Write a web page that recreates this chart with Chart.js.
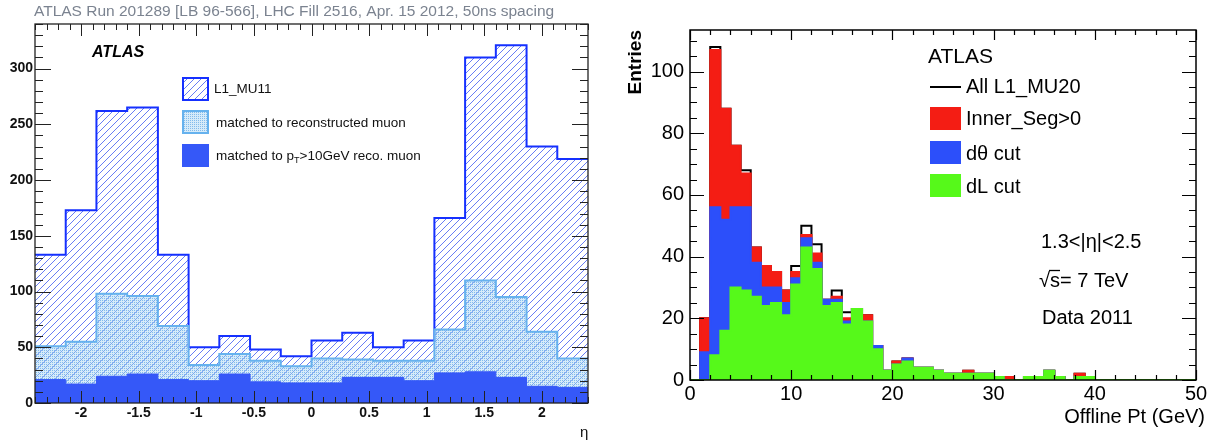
<!DOCTYPE html>
<html><head><meta charset="utf-8">
<script src="https://cdn.jsdelivr.net/npm/chart.js@4.4.1/dist/chart.umd.min.js"></script>
<style>
html,body{margin:0;padding:0;background:#fff;width:1217px;height:443px;overflow:hidden}
#wrapL{position:absolute;left:0;top:0;width:600px;height:443px}
#wrapR{position:absolute;left:600px;top:0;width:617px;height:443px}
canvas{display:block}
</style></head><body>
<div id="wrapL"><canvas id="cL" width="600" height="443"></canvas></div>
<div id="wrapR"><canvas id="cR" width="617" height="443"></canvas></div>
<script>
// ---------- Left panel data (eta) ----------
const etaEdges = [-2.4, -2.1333, -1.8667, -1.6, -1.3333, -1.0667, -0.8, -0.5333, -0.2667, 0,
                  0.2667, 0.5333, 0.8, 1.0667, 1.3333, 1.6, 1.8667, 2.1333, 2.4];
const l1mu11      = [133, 173, 262, 265, 133, 50, 60, 48, 42, 56, 63, 50, 56, 166, 310, 321, 230, 219];
const matchedReco = [51, 55, 98, 96, 69, 34, 44, 38, 33, 40, 39, 38, 38, 66, 110, 95, 64, 40];
const matchedPt10 = [21, 17, 24, 26, 21, 20, 26, 19, 18, 18, 23, 23, 20, 27, 28, 23, 15, 14];
const etaTicks = [-2, -1.5, -1, -0.5, 0, 0.5, 1, 1.5, 2];
const leftYTicks = [0, 50, 100, 150, 200, 250, 300];

// ---------- Right panel data (offline pT) ----------
const ptEdges = [0,1,2,3,4,5,6,7,8,9,10,11,12,13,14,15,16,17,18,19,20,21,22,23,24,25,26,27,28,29,30,
                 31,32,33,34,35,36,37,38,39,40,41,42,43,44,45,46,47,48,49,50];
const allL1MU20 = [0,20,108,88,76,68,43,37,35,29,37,50,44,26,29,22,23,21,11,3,6,7,4,4,3,2,2,3,2,2,1,1,0,1,1,3,1,0,2,1,0,0,0,0,0,0,0,0,0,0];
const innerSeg  = [0,20,107,88,76,67,43,37,35,29,35,47,41,26,27,20,23,21,11,3,6,7,4,4,3,2,2,3,2,2,1,1,0,1,1,3,1,0,2,1,0,0,0,0,0,0,0,0,0,0];
const dThetaCut = [0,9,56,52,56,56,38,30,30,25,33,46,38,26,26,19,23,19,11,3,5,7,4,4,3,2,2,2,2,2,1,0,0,1,1,3,1,0,1,1,0,0,0,0,0,0,0,0,0,0];
const dLCut     = [0,0,8,16,30,29,27,24,25,21,31,43,36,24,25,18,23,19,10,3,5,6,4,4,3,2,2,2,2,2,1,0,0,1,1,3,1,0,1,1,0,0,0,0,0,0,0,0,0,0];
const ptTicks = [0, 10, 20, 30, 40, 50];
const rightYTicks = [0, 20, 40, 60, 80, 100];

const FONT = '"Liberation Sans", Arial, Helvetica, sans-serif';

function histPoints(edges, vals) {
  const pts = vals.map((v, i) => ({x: edges[i], y: v}));
  pts.push({x: edges[vals.length], y: vals[vals.length - 1]});
  return pts;
}

function makeHatch(ctxMain) {
  const c = document.createElement('canvas'); c.width = 7; c.height = 7;
  const g = c.getContext('2d');
  g.strokeStyle = 'rgba(45,75,240,0.72)'; g.lineWidth = 1;
  g.beginPath();
  g.moveTo(-1, 8); g.lineTo(8, -1);
  g.moveTo(-1, 1); g.lineTo(1, -1);
  g.moveTo(6, 8); g.lineTo(8, 6);
  g.stroke();
  return ctxMain.createPattern(c, 'repeat');
}
function makeDots(ctxMain) {
  const c = document.createElement('canvas'); c.width = 2; c.height = 2;
  const g = c.getContext('2d');
  g.fillStyle = 'rgba(165,210,242,0.45)'; g.fillRect(0, 0, 2, 2);
  g.fillStyle = 'rgba(110,175,232,0.8)'; g.fillRect(0, 0, 1, 1);
  return ctxMain.createPattern(c, 'repeat');
}

const rootAxes = {
  id: 'rootAxes',
  afterDatasetsDraw(chart, args, o) {
    const {ctx, chartArea: a, scales: {x, y}} = chart;
    const marks = (min, max, step) => {
      const out = [];
      const n0 = Math.ceil(min / step - 1e-6), n1 = Math.floor(max / step + 1e-6);
      for (let k = n0; k <= n1; k++) out.push(k * step);
      return out;
    };
    const isMaj = (v, m) => Math.abs(v / m - Math.round(v / m)) < 1e-6;
    ctx.save();
    ctx.strokeStyle = o.color; ctx.lineWidth = o.lw;
    ctx.beginPath();
    for (const v of marks(x.min, x.max, o.xMinor)) {
      const len = isMaj(v, o.xMajor) ? o.xMajLen : o.xMinLen;
      const px = Math.round(x.getPixelForValue(v)) + 0.5;
      ctx.moveTo(px, a.bottom); ctx.lineTo(px, a.bottom - len);
      ctx.moveTo(px, a.top); ctx.lineTo(px, a.top + len);
    }
    for (const v of marks(y.min, y.max, o.yMinor)) {
      const len = isMaj(v, o.yMajor) ? o.yMajLen : o.yMinLen;
      const py = Math.round(y.getPixelForValue(v)) + 0.5;
      ctx.moveTo(a.left, py); ctx.lineTo(a.left + len, py);
      ctx.moveTo(a.right, py); ctx.lineTo(a.right - len, py);
    }
    ctx.stroke();
    ctx.lineWidth = o.frameLw;
    ctx.strokeRect(a.left, a.top, a.right - a.left, a.bottom - a.top);
    ctx.restore();
  }
};

function histDataset(label, edges, vals, border, bg, bw, fill) {
  return {
    label, data: histPoints(edges, vals), stepped: 'before', borderColor: border,
    backgroundColor: bg, borderWidth: bw, fill: fill ? 'origin' : false,
    pointRadius: 0, pointHoverRadius: 0, tension: 0
  };
}

// ---------------- LEFT CHART ----------------
const ctxL = document.getElementById('cL').getContext('2d');
const hatch = makeHatch(ctxL);
const dots = makeDots(ctxL);

const leftDecor = {
  id: 'leftDecor',
  afterDraw(chart) {
    const ctx = chart.ctx;
    ctx.save();
    ctx.textBaseline = 'middle'; ctx.textAlign = 'left';
    ctx.fillStyle = '#7b8390';
    ctx.font = '15.5px ' + FONT;
    ctx.fillText('ATLAS Run 201289 [LB 96-566], LHC Fill 2516, Apr. 15 2012, 50ns spacing', 34, 12);
    ctx.fillStyle = '#000';
    ctx.font = 'italic bold 16px ' + FONT;
    ctx.fillText('ATLAS', 92, 53);
    // legend
    const bx = 183, bw = 25, bh = 22;
    ctx.fillStyle = '#fff'; ctx.fillRect(bx, 78, bw, bh);
    ctx.fillStyle = hatch; ctx.fillRect(bx, 78, bw, bh);
    ctx.strokeStyle = '#1530ff'; ctx.lineWidth = 2; ctx.strokeRect(bx, 78, bw, bh);
    ctx.fillStyle = dots; ctx.fillRect(bx, 111, bw, bh);
    ctx.strokeStyle = '#66b2ee'; ctx.lineWidth = 2; ctx.strokeRect(bx, 111, bw, bh);
    ctx.fillStyle = '#3558f8'; ctx.fillRect(bx - 1, 144, bw + 2, bh + 1);
    ctx.fillStyle = '#111';
    ctx.font = '13.5px ' + FONT;
    ctx.fillText('L1_MU11', 214, 89);
    ctx.fillText('matched to reconstructed muon', 216, 123);
    let t1 = 'matched to p';
    ctx.fillText(t1, 216, 156);
    let w = ctx.measureText(t1).width;
    ctx.font = '9px ' + FONT;
    ctx.fillText('T', 216 + w, 161);
    let w2 = ctx.measureText('T').width;
    ctx.font = '13.5px ' + FONT;
    ctx.fillText('>10GeV reco. muon', 216 + w + w2, 156);
    // axis title
    ctx.font = '15px ' + FONT;
    ctx.fillText('\u03B7', 580, 433);
    ctx.restore();
  }
};

new Chart(ctxL, {
  type: 'line',
  data: {
    datasets: [
      histDataset('matched to pT>10GeV reco. muon', etaEdges, matchedPt10, '#3558f8', '#3558f8', 1, true),
      histDataset('matched to reconstructed muon', etaEdges, matchedReco, '#66b2ee', dots, 2, true),
      histDataset('L1_MU11', etaEdges, l1mu11, '#1530ff', hatch, 2, true)
    ]
  },
  options: {
    responsive: false, animation: false, devicePixelRatio: 1,
    layout: {padding: {left: 0, top: 24, right: 12, bottom: 0}},
    plugins: {
      legend: {display: false}, tooltip: {enabled: false},
      rootAxes: {color: '#222', lw: 1, frameLw: 1.3, xMajor: 0.5, xMinor: 0.1, yMajor: 50, yMinor: 10,
                 xMajLen: 12, xMinLen: 6, yMajLen: 16, yMinLen: 8}
    },
    scales: {
      x: {
        type: 'linear', min: -2.4, max: 2.4,
        grid: {display: false, drawTicks: false}, border: {display: false},
        afterBuildTicks: s => { s.ticks = etaTicks.map(v => ({value: v})); },
        ticks: {font: {family: FONT, size: 14, weight: 'bold'}, color: '#111', padding: 2,
                maxRotation: 0, autoSkip: false, callback: v => String(Number(v.toFixed(1)))},
        afterFit: s => { s.height = 40; }
      },
      y: {
        type: 'linear', min: 0, max: 340,
        grid: {display: false, drawTicks: false}, border: {display: false},
        afterBuildTicks: s => { s.ticks = leftYTicks.map(v => ({value: v})); },
        ticks: {font: {family: FONT, size: 14, weight: 'bold'}, color: '#111', padding: 2, autoSkip: false},
        afterFit: s => { s.width = 35; }
      }
    }
  },
  plugins: [rootAxes, leftDecor]
});

// ---------------- RIGHT CHART ----------------
const ctxR = document.getElementById('cR').getContext('2d');
const RED = '#f41d14', BLUE = '#2c4ffa', GREEN = '#56f91a';

const rightDecor = {
  id: 'rightDecor',
  afterDraw(chart) {
    const ctx = chart.ctx;
    ctx.save();
    ctx.textBaseline = 'middle'; ctx.textAlign = 'left';
    ctx.fillStyle = '#000';
    ctx.font = '21px ' + FONT;
    ctx.fillText('ATLAS', 328, 57);
    ctx.font = '20px ' + FONT;
    ctx.strokeStyle = '#000'; ctx.lineWidth = 2;
    ctx.beginPath(); ctx.moveTo(330, 87); ctx.lineTo(361, 87); ctx.stroke();
    ctx.fillStyle = RED; ctx.fillRect(330, 107, 31, 23);
    ctx.fillStyle = BLUE; ctx.fillRect(330, 141, 31, 23);
    ctx.fillStyle = GREEN; ctx.fillRect(330, 174, 31, 23);
    ctx.fillStyle = '#000';
    ctx.fillText('All L1_MU20', 366, 87);
    ctx.fillText('Inner_Seg>0', 366, 119);
    ctx.fillText('d\u03B8 cut', 366, 154);
    ctx.fillText('dL cut', 366, 187);
    ctx.fillText('1.3<|\u03B7|<2.5', 441, 242);
    // sqrt(s)
    const sq = '\u221A';
    ctx.fillText(sq, 439, 281);
    const wsq = ctx.measureText(sq).width;
    ctx.fillText('s= 7 TeV', 439 + wsq, 281);
    const ws = ctx.measureText('s').width;
    ctx.lineWidth = 1.3;
    ctx.beginPath(); ctx.moveTo(439 + wsq - 1, 270.5); ctx.lineTo(439 + wsq + ws, 270.5); ctx.stroke();
    ctx.fillText('Data 2011', 442, 318);
    // axis titles
    ctx.textAlign = 'right';
    ctx.fillText('Offline Pt (GeV)', 605, 417);
    ctx.translate(36, 30);
    ctx.rotate(-Math.PI / 2);
    ctx.font = 'bold 19px ' + FONT;
    ctx.fillText('Entries', 0, 0);
    ctx.restore();
  }
};

new Chart(ctxR, {
  type: 'line',
  data: {
    datasets: [
      histDataset('dL cut', ptEdges, dLCut, GREEN, GREEN, 2, true),
      histDataset('d\u03B8 cut', ptEdges, dThetaCut, BLUE, BLUE, 2, true),
      histDataset('Inner_Seg>0', ptEdges, innerSeg, RED, RED, 2, true),
      histDataset('All L1_MU20', ptEdges, allL1MU20, '#000', 'rgba(0,0,0,0)', 2, false)
    ]
  },
  options: {
    responsive: false, animation: false, devicePixelRatio: 1,
    layout: {padding: {left: 0, top: 30, right: 21, bottom: 0}},
    plugins: {
      legend: {display: false}, tooltip: {enabled: false},
      rootAxes: {color: '#000', lw: 1.2, frameLw: 1.5, xMajor: 10, xMinor: 2, yMajor: 20, yMinor: 5,
                 xMajLen: 10, xMinLen: 5, yMajLen: 14, yMinLen: 7}
    },
    scales: {
      x: {
        type: 'linear', min: 0, max: 50,
        grid: {display: false, drawTicks: false}, border: {display: false},
        afterBuildTicks: s => { s.ticks = ptTicks.map(v => ({value: v})); },
        ticks: {font: {family: FONT, size: 20}, color: '#000', padding: 2, maxRotation: 0, autoSkip: false},
        afterFit: s => { s.height = 63; }
      },
      y: {
        type: 'linear', min: 0, max: 113.5,
        grid: {display: false, drawTicks: false}, border: {display: false},
        afterBuildTicks: s => { s.ticks = rightYTicks.map(v => ({value: v})); },
        ticks: {font: {family: FONT, size: 20}, color: '#000', padding: 6, autoSkip: false},
        afterFit: s => { s.width = 90; }
      }
    }
  },
  plugins: [rootAxes, rightDecor]
});
</script>
</body></html>
